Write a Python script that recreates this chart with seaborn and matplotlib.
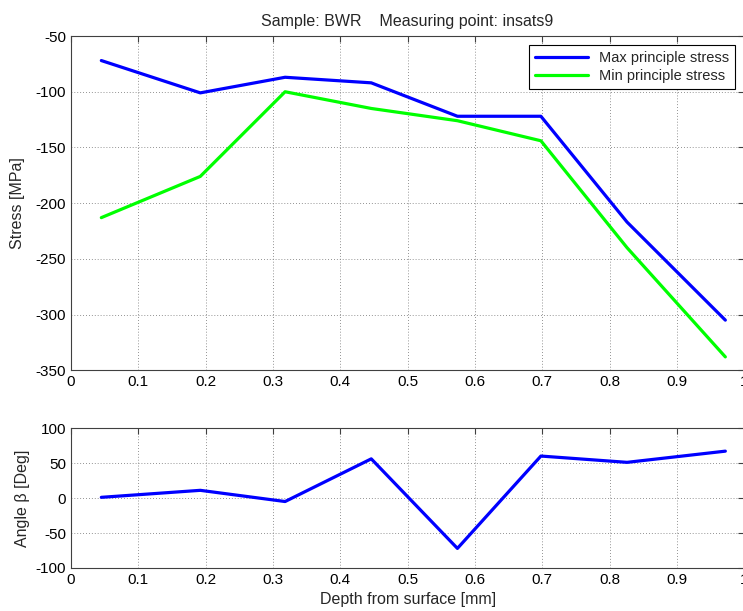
import numpy as np
import pandas as pd
import seaborn as sns
import matplotlib.pyplot as plt

# Values
depth = [0.045, 0.192, 0.318, 0.446, 0.574, 0.698, 0.826, 0.972]
max_stress = [-72, -101, -87, -92, -122, -122, -217, -305]
min_stress = [-213, -176, -100, -115, -126, -144, -240, -338]
angle = [1, 11, -5, 56, -72, 60, 51, 67]

sns.set_style("white")
plt.rcParams['font.family'] = ['Liberation Sans', 'DejaVu Sans']
plt.rcParams['font.size'] = 11
plt.rcParams['axes.unicode_minus'] = False

df = pd.DataFrame({
    'depth': depth * 2,
    'stress': max_stress + min_stress,
    'kind': ['Max principle stress'] * len(depth) + ['Min principle stress'] * len(depth),
})

fig = plt.figure(figsize=(7.43, 6.11), dpi=100)
ax1 = fig.add_axes([0.0956, 0.394, 0.906, 0.547])
ax2 = fig.add_axes([0.0956, 0.0704, 0.906, 0.229])

sns.lineplot(data=df, x='depth', y='stress', hue='kind',
             palette=['#0000ff', '#00ff00'], linewidth=2.3, ax=ax1)
sns.lineplot(x=depth, y=angle, color='#0000ff', linewidth=2.3, ax=ax2)

for ax in (ax1, ax2):
    ax.set_xlim(0, 1)
    ax.set_xticks(np.arange(0, 1.01, 0.1))
    ax.set_xticklabels(['0', '0.1', '0.2', '0.3', '0.4', '0.5', '0.6', '0.7', '0.8', '0.9', '1'])
    ax.grid(True, linestyle=(0, (1, 2.5)), color='#707070', linewidth=0.6)
    ax.tick_params(direction='in', top=True, right=True, length=4, colors='#404040',
                   labelcolor='black', labelsize=11)
    for s in ax.spines.values():
        s.set_color('#404040')
        s.set_linewidth(0.8)

ax1.set_ylim(-350, -50)
ax1.set_yticks(np.arange(-350, -49, 50))
ax1.set_xlabel('')
ax1.set_ylabel('Stress [MPa]', fontsize=11.5, labelpad=8)
ax1.set_title('Sample: BWR    Measuring point: insats9', fontsize=11.5, pad=7)
leg = ax1.legend(loc='upper right', frameon=True, fancybox=False, framealpha=1,
                 edgecolor='black', fontsize=10.5, borderaxespad=0.6,
                 handlelength=3.6, borderpad=0.4, labelspacing=0.3)
leg.get_frame().set_linewidth(0.8)

ax2.set_ylim(-100, 100)
ax2.set_yticks([-100, -50, 0, 50, 100])
ax2.set_xlabel('Depth from surface [mm]', fontsize=11.5)
ax2.set_ylabel('Angle β [Deg]', fontsize=11.5)

fig.savefig('out.png', dpi=100)
